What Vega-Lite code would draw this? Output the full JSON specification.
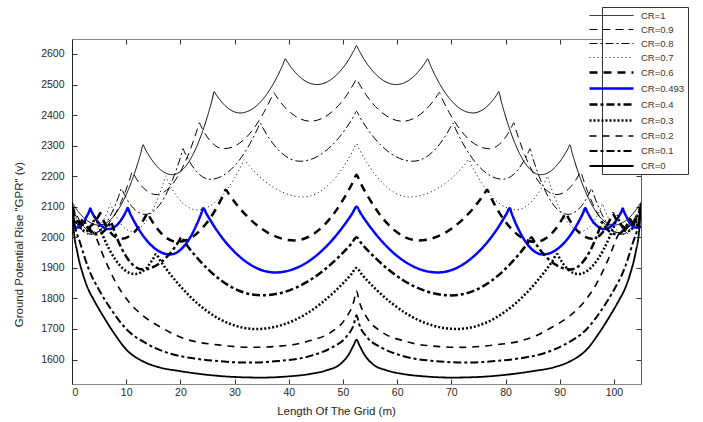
{
  "$schema": "https://vega.github.io/schema/vega-lite/v6.json",
  "width": 569,
  "height": 345,
  "autosize": "none",
  "padding": {"left": 72, "top": 39, "right": 62, "bottom": 38},
  "background": "white",
  "config": {
    "view": {"stroke": null},
    "font": "Liberation Sans",
    "axis": {"labelFont": "Liberation Sans", "titleFont": "Liberation Sans", "labelFontSize": 10.5, "titleFontSize": 11.5, "titleFontWeight": "normal", "labelColor": "#262626", "titleColor": "#262626", "domainColor": "#333", "tickColor": "#333", "grid": false, "tickSize": -5}
  },
  "data": {"values": [
{"cr":"CR=1","x":0,"v":2115},{"cr":"CR=1","x":0.25,"v":2108},{"cr":"CR=1","x":1,"v":2088},{"cr":"CR=1","x":2.5,"v":2059},{"cr":"CR=1","x":5,"v":2040},{"cr":"CR=1","x":9.06,"v":2106},{"cr":"CR=1","x":11.5,"v":2208},{"cr":"CR=1","x":12.72,"v":2277},{"cr":"CR=1","x":13.125,"v":2303},{"cr":"CR=1","x":13.39,"v":2293},{"cr":"CR=1","x":14.2,"v":2268},{"cr":"CR=1","x":15.81,"v":2230},{"cr":"CR=1","x":18.5,"v":2205},{"cr":"CR=1","x":22.38,"v":2273},{"cr":"CR=1","x":24.7,"v":2379},{"cr":"CR=1","x":25.86,"v":2450},{"cr":"CR=1","x":26.25,"v":2477},{"cr":"CR=1","x":26.49,"v":2470},{"cr":"CR=1","x":27.2,"v":2452},{"cr":"CR=1","x":28.63,"v":2425},{"cr":"CR=1","x":31,"v":2407},{"cr":"CR=1","x":35.19,"v":2451},{"cr":"CR=1","x":37.7,"v":2520},{"cr":"CR=1","x":38.96,"v":2567},{"cr":"CR=1","x":39.375,"v":2584},{"cr":"CR=1","x":39.67,"v":2576},{"cr":"CR=1","x":40.54,"v":2554},{"cr":"CR=1","x":42.29,"v":2521},{"cr":"CR=1","x":45.2,"v":2500},{"cr":"CR=1","x":48.85,"v":2532},{"cr":"CR=1","x":51.04,"v":2581},{"cr":"CR=1","x":52.14,"v":2615},{"cr":"CR=1","x":52.5,"v":2627},
{"cr":"CR=1","x":105,"v":2115},{"cr":"CR=1","x":104.75,"v":2108},{"cr":"CR=1","x":104,"v":2088},{"cr":"CR=1","x":102.5,"v":2059},{"cr":"CR=1","x":100,"v":2040},{"cr":"CR=1","x":95.94,"v":2106},{"cr":"CR=1","x":93.5,"v":2208},{"cr":"CR=1","x":92.28,"v":2277},{"cr":"CR=1","x":91.875,"v":2303},{"cr":"CR=1","x":91.61,"v":2293},{"cr":"CR=1","x":90.8,"v":2268},{"cr":"CR=1","x":89.19,"v":2230},{"cr":"CR=1","x":86.5,"v":2205},{"cr":"CR=1","x":82.62,"v":2273},{"cr":"CR=1","x":80.3,"v":2379},{"cr":"CR=1","x":79.14,"v":2450},{"cr":"CR=1","x":78.75,"v":2477},{"cr":"CR=1","x":78.51,"v":2470},{"cr":"CR=1","x":77.8,"v":2452},{"cr":"CR=1","x":76.37,"v":2425},{"cr":"CR=1","x":74,"v":2407},{"cr":"CR=1","x":69.81,"v":2451},{"cr":"CR=1","x":67.3,"v":2520},{"cr":"CR=1","x":66.04,"v":2567},{"cr":"CR=1","x":65.625,"v":2584},{"cr":"CR=1","x":65.33,"v":2576},{"cr":"CR=1","x":64.46,"v":2554},{"cr":"CR=1","x":62.71,"v":2521},{"cr":"CR=1","x":59.8,"v":2500},{"cr":"CR=1","x":56.15,"v":2532},{"cr":"CR=1","x":53.96,"v":2581},{"cr":"CR=1","x":52.86,"v":2615},

{"cr":"CR=0.9","x":0,"v":2110},{"cr":"CR=0.9","x":0.2,"v":2101},{"cr":"CR=0.9","x":0.8,"v":2076},{"cr":"CR=0.9","x":2,"v":2039},{"cr":"CR=0.9","x":4,"v":2015},{"cr":"CR=0.9","x":7.57,"v":2065},{"cr":"CR=0.9","x":9.7,"v":2143},{"cr":"CR=0.9","x":10.77,"v":2196},{"cr":"CR=0.9","x":11.13,"v":2215},{"cr":"CR=0.9","x":11.35,"v":2208},{"cr":"CR=0.9","x":12,"v":2188},{"cr":"CR=0.9","x":13.32,"v":2159},{"cr":"CR=0.9","x":15.5,"v":2140},{"cr":"CR=0.9","x":19.5,"v":2199},{"cr":"CR=0.9","x":21.89,"v":2290},{"cr":"CR=0.9","x":23.09,"v":2352},{"cr":"CR=0.9","x":23.49,"v":2375},{"cr":"CR=0.9","x":23.72,"v":2367},{"cr":"CR=0.9","x":24.39,"v":2344},{"cr":"CR=0.9","x":25.75,"v":2311},{"cr":"CR=0.9","x":28,"v":2290},{"cr":"CR=0.9","x":32.62,"v":2336},{"cr":"CR=0.9","x":35.38,"v":2408},{"cr":"CR=0.9","x":36.77,"v":2456},{"cr":"CR=0.9","x":37.23,"v":2474},{"cr":"CR=0.9","x":37.57,"v":2465},{"cr":"CR=0.9","x":38.58,"v":2440},{"cr":"CR=0.9","x":40.62,"v":2404},{"cr":"CR=0.9","x":44,"v":2380},{"cr":"CR=0.9","x":48.25,"v":2415},{"cr":"CR=0.9","x":50.8,"v":2468},{"cr":"CR=0.9","x":52.08,"v":2505},{"cr":"CR=0.9","x":52.5,"v":2518},
{"cr":"CR=0.9","x":105,"v":2110},{"cr":"CR=0.9","x":104.8,"v":2101},{"cr":"CR=0.9","x":104.2,"v":2076},{"cr":"CR=0.9","x":103,"v":2039},{"cr":"CR=0.9","x":101,"v":2015},{"cr":"CR=0.9","x":97.43,"v":2065},{"cr":"CR=0.9","x":95.3,"v":2143},{"cr":"CR=0.9","x":94.23,"v":2196},{"cr":"CR=0.9","x":93.87,"v":2215},{"cr":"CR=0.9","x":93.65,"v":2208},{"cr":"CR=0.9","x":93,"v":2188},{"cr":"CR=0.9","x":91.68,"v":2159},{"cr":"CR=0.9","x":89.5,"v":2140},{"cr":"CR=0.9","x":85.5,"v":2199},{"cr":"CR=0.9","x":83.11,"v":2290},{"cr":"CR=0.9","x":81.91,"v":2352},{"cr":"CR=0.9","x":81.51,"v":2375},{"cr":"CR=0.9","x":81.28,"v":2367},{"cr":"CR=0.9","x":80.61,"v":2344},{"cr":"CR=0.9","x":79.25,"v":2311},{"cr":"CR=0.9","x":77,"v":2290},{"cr":"CR=0.9","x":72.38,"v":2336},{"cr":"CR=0.9","x":69.62,"v":2408},{"cr":"CR=0.9","x":68.23,"v":2456},{"cr":"CR=0.9","x":67.77,"v":2474},{"cr":"CR=0.9","x":67.43,"v":2465},{"cr":"CR=0.9","x":66.42,"v":2440},{"cr":"CR=0.9","x":64.38,"v":2404},{"cr":"CR=0.9","x":61,"v":2380},{"cr":"CR=0.9","x":56.75,"v":2415},{"cr":"CR=0.9","x":54.2,"v":2468},{"cr":"CR=0.9","x":52.92,"v":2505},

{"cr":"CR=0.8","x":0,"v":2105},{"cr":"CR=0.8","x":0.175,"v":2096},{"cr":"CR=0.8","x":0.7,"v":2071},{"cr":"CR=0.8","x":1.75,"v":2034},{"cr":"CR=0.8","x":3.5,"v":2010},{"cr":"CR=0.8","x":6.3,"v":2047},{"cr":"CR=0.8","x":7.99,"v":2106},{"cr":"CR=0.8","x":8.83,"v":2145},{"cr":"CR=0.8","x":9.11,"v":2160},{"cr":"CR=0.8","x":9.33,"v":2152},{"cr":"CR=0.8","x":9.99,"v":2129},{"cr":"CR=0.8","x":11.3,"v":2096},{"cr":"CR=0.8","x":13.5,"v":2075},{"cr":"CR=0.8","x":17,"v":2129},{"cr":"CR=0.8","x":19.09,"v":2213},{"cr":"CR=0.8","x":20.14,"v":2269},{"cr":"CR=0.8","x":20.49,"v":2290},{"cr":"CR=0.8","x":20.74,"v":2280},{"cr":"CR=0.8","x":21.49,"v":2254},{"cr":"CR=0.8","x":23,"v":2215},{"cr":"CR=0.8","x":25.5,"v":2190},{"cr":"CR=0.8","x":30.11,"v":2236},{"cr":"CR=0.8","x":32.88,"v":2308},{"cr":"CR=0.8","x":34.26,"v":2356},{"cr":"CR=0.8","x":34.72,"v":2374},{"cr":"CR=0.8","x":35.09,"v":2362},{"cr":"CR=0.8","x":36.2,"v":2329},{"cr":"CR=0.8","x":38.41,"v":2280},{"cr":"CR=0.8","x":42.1,"v":2249},{"cr":"CR=0.8","x":47.3,"v":2290},{"cr":"CR=0.8","x":50.42,"v":2353},{"cr":"CR=0.8","x":51.98,"v":2396},{"cr":"CR=0.8","x":52.5,"v":2412},
{"cr":"CR=0.8","x":105,"v":2105},{"cr":"CR=0.8","x":104.825,"v":2096},{"cr":"CR=0.8","x":104.3,"v":2071},{"cr":"CR=0.8","x":103.25,"v":2034},{"cr":"CR=0.8","x":101.5,"v":2010},{"cr":"CR=0.8","x":98.7,"v":2047},{"cr":"CR=0.8","x":97.01,"v":2106},{"cr":"CR=0.8","x":96.17,"v":2145},{"cr":"CR=0.8","x":95.89,"v":2160},{"cr":"CR=0.8","x":95.67,"v":2152},{"cr":"CR=0.8","x":95.01,"v":2129},{"cr":"CR=0.8","x":93.7,"v":2096},{"cr":"CR=0.8","x":91.5,"v":2075},{"cr":"CR=0.8","x":88,"v":2129},{"cr":"CR=0.8","x":85.91,"v":2213},{"cr":"CR=0.8","x":84.86,"v":2269},{"cr":"CR=0.8","x":84.51,"v":2290},{"cr":"CR=0.8","x":84.26,"v":2280},{"cr":"CR=0.8","x":83.51,"v":2254},{"cr":"CR=0.8","x":82,"v":2215},{"cr":"CR=0.8","x":79.5,"v":2190},{"cr":"CR=0.8","x":74.89,"v":2236},{"cr":"CR=0.8","x":72.12,"v":2308},{"cr":"CR=0.8","x":70.74,"v":2356},{"cr":"CR=0.8","x":70.28,"v":2374},{"cr":"CR=0.8","x":69.91,"v":2362},{"cr":"CR=0.8","x":68.8,"v":2329},{"cr":"CR=0.8","x":66.59,"v":2280},{"cr":"CR=0.8","x":62.9,"v":2249},{"cr":"CR=0.8","x":57.7,"v":2290},{"cr":"CR=0.8","x":54.58,"v":2353},{"cr":"CR=0.8","x":53.02,"v":2396},

{"cr":"CR=0.7","x":0,"v":2100},{"cr":"CR=0.7","x":0.15,"v":2091},{"cr":"CR=0.7","x":0.6,"v":2068},{"cr":"CR=0.7","x":1.5,"v":2032},{"cr":"CR=0.7","x":3,"v":2010},{"cr":"CR=0.7","x":5.06,"v":2035},{"cr":"CR=0.7","x":6.29,"v":2074},{"cr":"CR=0.7","x":6.9,"v":2100},{"cr":"CR=0.7","x":7.11,"v":2110},{"cr":"CR=0.7","x":7.31,"v":2101},{"cr":"CR=0.7","x":7.89,"v":2078},{"cr":"CR=0.7","x":9.06,"v":2043},{"cr":"CR=0.7","x":11,"v":2020},{"cr":"CR=0.7","x":14.13,"v":2065},{"cr":"CR=0.7","x":16.01,"v":2135},{"cr":"CR=0.7","x":16.95,"v":2182},{"cr":"CR=0.7","x":17.26,"v":2200},{"cr":"CR=0.7","x":17.55,"v":2189},{"cr":"CR=0.7","x":18.41,"v":2160},{"cr":"CR=0.7","x":20.13,"v":2118},{"cr":"CR=0.7","x":23,"v":2090},{"cr":"CR=0.7","x":27.39,"v":2131},{"cr":"CR=0.7","x":30.02,"v":2195},{"cr":"CR=0.7","x":31.33,"v":2238},{"cr":"CR=0.7","x":31.77,"v":2254},{"cr":"CR=0.7","x":32.32,"v":2242},{"cr":"CR=0.7","x":33.96,"v":2210},{"cr":"CR=0.7","x":37.24,"v":2163},{"cr":"CR=0.7","x":42.7,"v":2132},{"cr":"CR=0.7","x":47.6,"v":2176},{"cr":"CR=0.7","x":50.54,"v":2243},{"cr":"CR=0.7","x":52.01,"v":2289},{"cr":"CR=0.7","x":52.5,"v":2306},
{"cr":"CR=0.7","x":105,"v":2100},{"cr":"CR=0.7","x":104.85,"v":2091},{"cr":"CR=0.7","x":104.4,"v":2068},{"cr":"CR=0.7","x":103.5,"v":2032},{"cr":"CR=0.7","x":102,"v":2010},{"cr":"CR=0.7","x":99.94,"v":2035},{"cr":"CR=0.7","x":98.71,"v":2074},{"cr":"CR=0.7","x":98.1,"v":2100},{"cr":"CR=0.7","x":97.89,"v":2110},{"cr":"CR=0.7","x":97.69,"v":2101},{"cr":"CR=0.7","x":97.11,"v":2078},{"cr":"CR=0.7","x":95.94,"v":2043},{"cr":"CR=0.7","x":94,"v":2020},{"cr":"CR=0.7","x":90.87,"v":2065},{"cr":"CR=0.7","x":88.99,"v":2135},{"cr":"CR=0.7","x":88.05,"v":2182},{"cr":"CR=0.7","x":87.74,"v":2200},{"cr":"CR=0.7","x":87.45,"v":2189},{"cr":"CR=0.7","x":86.59,"v":2160},{"cr":"CR=0.7","x":84.87,"v":2118},{"cr":"CR=0.7","x":82,"v":2090},{"cr":"CR=0.7","x":77.61,"v":2131},{"cr":"CR=0.7","x":74.98,"v":2195},{"cr":"CR=0.7","x":73.67,"v":2238},{"cr":"CR=0.7","x":73.23,"v":2254},{"cr":"CR=0.7","x":72.68,"v":2242},{"cr":"CR=0.7","x":71.04,"v":2210},{"cr":"CR=0.7","x":67.76,"v":2163},{"cr":"CR=0.7","x":62.3,"v":2132},{"cr":"CR=0.7","x":57.4,"v":2176},{"cr":"CR=0.7","x":54.46,"v":2243},{"cr":"CR=0.7","x":52.99,"v":2289},

{"cr":"CR=0.6","x":0,"v":2100},{"cr":"CR=0.6","x":0.125,"v":2093},{"cr":"CR=0.6","x":0.5,"v":2075},{"cr":"CR=0.6","x":1.25,"v":2048},{"cr":"CR=0.6","x":2.5,"v":2030},{"cr":"CR=0.6","x":3.86,"v":2043},{"cr":"CR=0.6","x":4.67,"v":2062},{"cr":"CR=0.6","x":5.07,"v":2075},{"cr":"CR=0.6","x":5.21,"v":2080},{"cr":"CR=0.6","x":5.4,"v":2072},{"cr":"CR=0.6","x":5.97,"v":2049},{"cr":"CR=0.6","x":7.1,"v":2016},{"cr":"CR=0.6","x":9,"v":1995},{"cr":"CR=0.6","x":11.45,"v":2016},{"cr":"CR=0.6","x":12.92,"v":2049},{"cr":"CR=0.6","x":13.66,"v":2072},{"cr":"CR=0.6","x":13.9,"v":2080},{"cr":"CR=0.6","x":14.18,"v":2071},{"cr":"CR=0.6","x":15.02,"v":2046},{"cr":"CR=0.6","x":16.7,"v":2009},{"cr":"CR=0.6","x":19.5,"v":1985},{"cr":"CR=0.6","x":23.94,"v":2028},{"cr":"CR=0.6","x":26.6,"v":2094},{"cr":"CR=0.6","x":27.93,"v":2139},{"cr":"CR=0.6","x":28.37,"v":2156},{"cr":"CR=0.6","x":29,"v":2140},{"cr":"CR=0.6","x":30.9,"v":2096},{"cr":"CR=0.6","x":34.69,"v":2032},{"cr":"CR=0.6","x":41,"v":1990},{"cr":"CR=0.6","x":46.75,"v":2044},{"cr":"CR=0.6","x":50.2,"v":2128},{"cr":"CR=0.6","x":51.93,"v":2184},{"cr":"CR=0.6","x":52.5,"v":2205},
{"cr":"CR=0.6","x":105,"v":2100},{"cr":"CR=0.6","x":104.875,"v":2093},{"cr":"CR=0.6","x":104.5,"v":2075},{"cr":"CR=0.6","x":103.75,"v":2048},{"cr":"CR=0.6","x":102.5,"v":2030},{"cr":"CR=0.6","x":101.14,"v":2043},{"cr":"CR=0.6","x":100.33,"v":2062},{"cr":"CR=0.6","x":99.93,"v":2075},{"cr":"CR=0.6","x":99.79,"v":2080},{"cr":"CR=0.6","x":99.6,"v":2072},{"cr":"CR=0.6","x":99.03,"v":2049},{"cr":"CR=0.6","x":97.9,"v":2016},{"cr":"CR=0.6","x":96,"v":1995},{"cr":"CR=0.6","x":93.55,"v":2016},{"cr":"CR=0.6","x":92.08,"v":2049},{"cr":"CR=0.6","x":91.34,"v":2072},{"cr":"CR=0.6","x":91.1,"v":2080},{"cr":"CR=0.6","x":90.82,"v":2071},{"cr":"CR=0.6","x":89.98,"v":2046},{"cr":"CR=0.6","x":88.3,"v":2009},{"cr":"CR=0.6","x":85.5,"v":1985},{"cr":"CR=0.6","x":81.06,"v":2028},{"cr":"CR=0.6","x":78.4,"v":2094},{"cr":"CR=0.6","x":77.07,"v":2139},{"cr":"CR=0.6","x":76.63,"v":2156},{"cr":"CR=0.6","x":76,"v":2140},{"cr":"CR=0.6","x":74.1,"v":2096},{"cr":"CR=0.6","x":70.31,"v":2032},{"cr":"CR=0.6","x":64,"v":1990},{"cr":"CR=0.6","x":58.25,"v":2044},{"cr":"CR=0.6","x":54.8,"v":2128},{"cr":"CR=0.6","x":53.07,"v":2184},

{"cr":"CR=0.493","x":0,"v":2035},{"cr":"CR=0.493","x":1,"v":2032},{"cr":"CR=0.493","x":2,"v":2045},{"cr":"CR=0.493","x":2.7,"v":2068},{"cr":"CR=0.493","x":3.2,"v":2086},{"cr":"CR=0.493","x":3.38,"v":2094},{"cr":"CR=0.493","x":3.55,"v":2087},{"cr":"CR=0.493","x":4.05,"v":2070},{"cr":"CR=0.493","x":5.07,"v":2044},{"cr":"CR=0.493","x":6.75,"v":2027},{"cr":"CR=0.493","x":8.5,"v":2044},{"cr":"CR=0.493","x":9.56,"v":2071},{"cr":"CR=0.493","x":10.08,"v":2089},{"cr":"CR=0.493","x":10.26,"v":2096},{"cr":"CR=0.493","x":10.65,"v":2081},{"cr":"CR=0.493","x":11.83,"v":2041},{"cr":"CR=0.493","x":14.18,"v":1982},{"cr":"CR=0.493","x":18.1,"v":1944},{"cr":"CR=0.493","x":21.16,"v":1982},{"cr":"CR=0.493","x":22.99,"v":2041},{"cr":"CR=0.493","x":23.9,"v":2080},{"cr":"CR=0.493","x":24.21,"v":2095},{"cr":"CR=0.493","x":24.88,"v":2075},{"cr":"CR=0.493","x":26.87,"v":2019},{"cr":"CR=0.493","x":30.86,"v":1938},{"cr":"CR=0.493","x":37.5,"v":1885},{"cr":"CR=0.493","x":45,"v":1939},{"cr":"CR=0.493","x":49.5,"v":2023},{"cr":"CR=0.493","x":51.75,"v":2079},{"cr":"CR=0.493","x":52.5,"v":2100},
{"cr":"CR=0.493","x":105,"v":2035},{"cr":"CR=0.493","x":104,"v":2032},{"cr":"CR=0.493","x":103,"v":2045},{"cr":"CR=0.493","x":102.3,"v":2068},{"cr":"CR=0.493","x":101.8,"v":2086},{"cr":"CR=0.493","x":101.62,"v":2094},{"cr":"CR=0.493","x":101.45,"v":2087},{"cr":"CR=0.493","x":100.95,"v":2070},{"cr":"CR=0.493","x":99.93,"v":2044},{"cr":"CR=0.493","x":98.25,"v":2027},{"cr":"CR=0.493","x":96.5,"v":2044},{"cr":"CR=0.493","x":95.44,"v":2071},{"cr":"CR=0.493","x":94.92,"v":2089},{"cr":"CR=0.493","x":94.74,"v":2096},{"cr":"CR=0.493","x":94.35,"v":2081},{"cr":"CR=0.493","x":93.17,"v":2041},{"cr":"CR=0.493","x":90.82,"v":1982},{"cr":"CR=0.493","x":86.9,"v":1944},{"cr":"CR=0.493","x":83.84,"v":1982},{"cr":"CR=0.493","x":82.01,"v":2041},{"cr":"CR=0.493","x":81.1,"v":2080},{"cr":"CR=0.493","x":80.79,"v":2095},{"cr":"CR=0.493","x":80.12,"v":2075},{"cr":"CR=0.493","x":78.13,"v":2019},{"cr":"CR=0.493","x":74.14,"v":1938},{"cr":"CR=0.493","x":67.5,"v":1885},{"cr":"CR=0.493","x":60,"v":1939},{"cr":"CR=0.493","x":55.5,"v":2023},{"cr":"CR=0.493","x":53.25,"v":2079},

{"cr":"CR=0.4","x":0,"v":2090},{"cr":"CR=0.4","x":0.8,"v":2040},{"cr":"CR=0.4","x":1.5,"v":2045},{"cr":"CR=0.4","x":2.07,"v":2060},{"cr":"CR=0.4","x":2.56,"v":2042},{"cr":"CR=0.4","x":3.29,"v":2022},{"cr":"CR=0.4","x":4.5,"v":2010},{"cr":"CR=0.4","x":5.87,"v":2020},{"cr":"CR=0.4","x":6.69,"v":2036},{"cr":"CR=0.4","x":7.1,"v":2046},{"cr":"CR=0.4","x":7.24,"v":2050},{"cr":"CR=0.4","x":7.53,"v":2035},{"cr":"CR=0.4","x":8.39,"v":1994},{"cr":"CR=0.4","x":10.12,"v":1934},{"cr":"CR=0.4","x":13,"v":1895},{"cr":"CR=0.4","x":16.59,"v":1921},{"cr":"CR=0.4","x":18.74,"v":1962},{"cr":"CR=0.4","x":19.81,"v":1990},{"cr":"CR=0.4","x":20.17,"v":2000},{"cr":"CR=0.4","x":20.91,"v":1981},{"cr":"CR=0.4","x":23.14,"v":1932},{"cr":"CR=0.4","x":27.59,"v":1858},{"cr":"CR=0.4","x":35,"v":1810},{"cr":"CR=0.4","x":43.75,"v":1858},{"cr":"CR=0.4","x":49,"v":1932},{"cr":"CR=0.4","x":51.63,"v":1981},{"cr":"CR=0.4","x":52.5,"v":2000},
{"cr":"CR=0.4","x":105,"v":2090},{"cr":"CR=0.4","x":104.2,"v":2040},{"cr":"CR=0.4","x":103.5,"v":2045},{"cr":"CR=0.4","x":102.93,"v":2060},{"cr":"CR=0.4","x":102.44,"v":2042},{"cr":"CR=0.4","x":101.71,"v":2022},{"cr":"CR=0.4","x":100.5,"v":2010},{"cr":"CR=0.4","x":99.13,"v":2020},{"cr":"CR=0.4","x":98.31,"v":2036},{"cr":"CR=0.4","x":97.9,"v":2046},{"cr":"CR=0.4","x":97.76,"v":2050},{"cr":"CR=0.4","x":97.47,"v":2035},{"cr":"CR=0.4","x":96.61,"v":1994},{"cr":"CR=0.4","x":94.88,"v":1934},{"cr":"CR=0.4","x":92,"v":1895},{"cr":"CR=0.4","x":88.41,"v":1921},{"cr":"CR=0.4","x":86.26,"v":1962},{"cr":"CR=0.4","x":85.19,"v":1990},{"cr":"CR=0.4","x":84.83,"v":2000},{"cr":"CR=0.4","x":84.09,"v":1981},{"cr":"CR=0.4","x":81.86,"v":1932},{"cr":"CR=0.4","x":77.41,"v":1858},{"cr":"CR=0.4","x":70,"v":1810},{"cr":"CR=0.4","x":61.25,"v":1858},{"cr":"CR=0.4","x":56,"v":1932},{"cr":"CR=0.4","x":53.37,"v":1981},

{"cr":"CR=0.3","x":0,"v":2080},{"cr":"CR=0.3","x":0.5,"v":2045},{"cr":"CR=0.3","x":1,"v":2050},{"cr":"CR=0.3","x":1.8,"v":2025},{"cr":"CR=0.3","x":2.6,"v":2020},{"cr":"CR=0.3","x":3.5,"v":2035},{"cr":"CR=0.3","x":4.1,"v":2058},{"cr":"CR=0.3","x":4.33,"v":2070},{"cr":"CR=0.3","x":4.69,"v":2051},{"cr":"CR=0.3","x":5.78,"v":2002},{"cr":"CR=0.3","x":7.97,"v":1928},{"cr":"CR=0.3","x":11.6,"v":1880},{"cr":"CR=0.3","x":13.53,"v":1896},{"cr":"CR=0.3","x":14.68,"v":1922},{"cr":"CR=0.3","x":15.26,"v":1939},{"cr":"CR=0.3","x":15.45,"v":1945},{"cr":"CR=0.3","x":16.38,"v":1921},{"cr":"CR=0.3","x":19.16,"v":1857},{"cr":"CR=0.3","x":24.73,"v":1761},{"cr":"CR=0.3","x":34,"v":1700},{"cr":"CR=0.3","x":43.25,"v":1750},{"cr":"CR=0.3","x":48.8,"v":1828},{"cr":"CR=0.3","x":51.58,"v":1880},{"cr":"CR=0.3","x":52.5,"v":1900},
{"cr":"CR=0.3","x":105,"v":2080},{"cr":"CR=0.3","x":104.5,"v":2045},{"cr":"CR=0.3","x":104,"v":2050},{"cr":"CR=0.3","x":103.2,"v":2025},{"cr":"CR=0.3","x":102.4,"v":2020},{"cr":"CR=0.3","x":101.5,"v":2035},{"cr":"CR=0.3","x":100.9,"v":2058},{"cr":"CR=0.3","x":100.67,"v":2070},{"cr":"CR=0.3","x":100.31,"v":2051},{"cr":"CR=0.3","x":99.22,"v":2002},{"cr":"CR=0.3","x":97.03,"v":1928},{"cr":"CR=0.3","x":93.4,"v":1880},{"cr":"CR=0.3","x":91.47,"v":1896},{"cr":"CR=0.3","x":90.32,"v":1922},{"cr":"CR=0.3","x":89.74,"v":1939},{"cr":"CR=0.3","x":89.55,"v":1945},{"cr":"CR=0.3","x":88.62,"v":1921},{"cr":"CR=0.3","x":85.84,"v":1857},{"cr":"CR=0.3","x":80.27,"v":1761},{"cr":"CR=0.3","x":71,"v":1700},{"cr":"CR=0.3","x":61.75,"v":1750},{"cr":"CR=0.3","x":56.2,"v":1828},{"cr":"CR=0.3","x":53.42,"v":1880},

{"cr":"CR=0.2","x":0,"v":2090},{"cr":"CR=0.2","x":1,"v":2060},{"cr":"CR=0.2","x":2.02,"v":2040},{"cr":"CR=0.2","x":4,"v":2014},{"cr":"CR=0.2","x":6,"v":1930},{"cr":"CR=0.2","x":8,"v":1855},{"cr":"CR=0.2","x":10.43,"v":1790},{"cr":"CR=0.2","x":13,"v":1745},{"cr":"CR=0.2","x":17,"v":1700},{"cr":"CR=0.2","x":19.4,"v":1678},{"cr":"CR=0.2","x":22,"v":1662},{"cr":"CR=0.2","x":27,"v":1648},{"cr":"CR=0.2","x":33,"v":1640},{"cr":"CR=0.2","x":39,"v":1645},{"cr":"CR=0.2","x":44,"v":1662},{"cr":"CR=0.2","x":48,"v":1692},{"cr":"CR=0.2","x":50.5,"v":1735},{"cr":"CR=0.2","x":52,"v":1790},{"cr":"CR=0.2","x":52.5,"v":1825},
{"cr":"CR=0.2","x":105,"v":2090},{"cr":"CR=0.2","x":104,"v":2060},{"cr":"CR=0.2","x":102.98,"v":2040},{"cr":"CR=0.2","x":101,"v":2014},{"cr":"CR=0.2","x":99,"v":1930},{"cr":"CR=0.2","x":97,"v":1855},{"cr":"CR=0.2","x":94.57,"v":1790},{"cr":"CR=0.2","x":92,"v":1745},{"cr":"CR=0.2","x":88,"v":1700},{"cr":"CR=0.2","x":85.6,"v":1678},{"cr":"CR=0.2","x":83,"v":1662},{"cr":"CR=0.2","x":78,"v":1648},{"cr":"CR=0.2","x":72,"v":1640},{"cr":"CR=0.2","x":66,"v":1645},{"cr":"CR=0.2","x":61,"v":1662},{"cr":"CR=0.2","x":57,"v":1692},{"cr":"CR=0.2","x":54.5,"v":1735},{"cr":"CR=0.2","x":53,"v":1790},

{"cr":"CR=0.1","x":0,"v":2100},{"cr":"CR=0.1","x":0.52,"v":2040},{"cr":"CR=0.1","x":1.5,"v":1982},{"cr":"CR=0.1","x":3,"v":1900},{"cr":"CR=0.1","x":5.25,"v":1820},{"cr":"CR=0.1","x":7,"v":1770},{"cr":"CR=0.1","x":10,"v":1700},{"cr":"CR=0.1","x":14,"v":1650},{"cr":"CR=0.1","x":18,"v":1620},{"cr":"CR=0.1","x":22,"v":1605},{"cr":"CR=0.1","x":27,"v":1595},{"cr":"CR=0.1","x":32,"v":1590},{"cr":"CR=0.1","x":38,"v":1595},{"cr":"CR=0.1","x":44,"v":1612},{"cr":"CR=0.1","x":48,"v":1640},{"cr":"CR=0.1","x":50.5,"v":1672},{"cr":"CR=0.1","x":52,"v":1715},{"cr":"CR=0.1","x":52.5,"v":1745},
{"cr":"CR=0.1","x":105,"v":2100},{"cr":"CR=0.1","x":104.48,"v":2040},{"cr":"CR=0.1","x":103.5,"v":1982},{"cr":"CR=0.1","x":102,"v":1900},{"cr":"CR=0.1","x":99.75,"v":1820},{"cr":"CR=0.1","x":98,"v":1770},{"cr":"CR=0.1","x":95,"v":1700},{"cr":"CR=0.1","x":91,"v":1650},{"cr":"CR=0.1","x":87,"v":1620},{"cr":"CR=0.1","x":83,"v":1605},{"cr":"CR=0.1","x":78,"v":1595},{"cr":"CR=0.1","x":73,"v":1590},{"cr":"CR=0.1","x":67,"v":1595},{"cr":"CR=0.1","x":61,"v":1612},{"cr":"CR=0.1","x":57,"v":1640},{"cr":"CR=0.1","x":54.5,"v":1672},{"cr":"CR=0.1","x":53,"v":1715},

{"cr":"CR=0","x":0,"v":2110},{"cr":"CR=0","x":0.3,"v":2030},{"cr":"CR=0","x":1,"v":1950},{"cr":"CR=0","x":2,"v":1880},{"cr":"CR=0","x":3,"v":1830},{"cr":"CR=0","x":4,"v":1796},{"cr":"CR=0","x":6,"v":1735},{"cr":"CR=0","x":8,"v":1680},{"cr":"CR=0","x":10,"v":1633},{"cr":"CR=0","x":13,"v":1595},{"cr":"CR=0","x":16,"v":1575},{"cr":"CR=0","x":20,"v":1562},{"cr":"CR=0","x":25,"v":1550},{"cr":"CR=0","x":30,"v":1543},{"cr":"CR=0","x":35,"v":1541},{"cr":"CR=0","x":40,"v":1545},{"cr":"CR=0","x":44,"v":1553},{"cr":"CR=0","x":47,"v":1565},{"cr":"CR=0","x":49.5,"v":1585},{"cr":"CR=0","x":51,"v":1615},{"cr":"CR=0","x":52,"v":1648},{"cr":"CR=0","x":52.5,"v":1665},
{"cr":"CR=0","x":105,"v":2110},{"cr":"CR=0","x":104.7,"v":2030},{"cr":"CR=0","x":104,"v":1950},{"cr":"CR=0","x":103,"v":1880},{"cr":"CR=0","x":102,"v":1830},{"cr":"CR=0","x":101,"v":1796},{"cr":"CR=0","x":99,"v":1735},{"cr":"CR=0","x":97,"v":1680},{"cr":"CR=0","x":95,"v":1633},{"cr":"CR=0","x":92,"v":1595},{"cr":"CR=0","x":89,"v":1575},{"cr":"CR=0","x":85,"v":1562},{"cr":"CR=0","x":80,"v":1550},{"cr":"CR=0","x":75,"v":1543},{"cr":"CR=0","x":70,"v":1541},{"cr":"CR=0","x":65,"v":1545},{"cr":"CR=0","x":61,"v":1553},{"cr":"CR=0","x":58,"v":1565},{"cr":"CR=0","x":55.5,"v":1585},{"cr":"CR=0","x":54,"v":1615},{"cr":"CR=0","x":53,"v":1648}
  ]},
  "layer": [
    {
      "mark": {"type": "line", "interpolate": "monotone", "clip": true},
      "encoding": {
        "x": {"field": "x", "type": "quantitative", "scale": {"domain": [0, 105], "nice": false, "zero": false}, "axis": {"values": [0,10,20,30,40,50,60,70,80,90,100], "title": "Length Of The Grid (m)", "labelPadding": 8, "titlePadding": 8, "titleX": 264, "domainColor": "#888"}},
        "y": {"field": "v", "type": "quantitative", "scale": {"domain": [1520, 2649], "nice": false, "zero": false}, "axis": {"values": [1600,1700,1800,1900,2000,2100,2200,2300,2400,2500,2600], "format": "d", "title": "Ground Potential Rise \"GPR\" (v)", "labelPadding": 13, "titlePadding": 16, "titleY": 205, "domainColor": "#222"}},
        "color": {"field": "cr", "type": "nominal", "sort": ["CR=1","CR=0.9","CR=0.8","CR=0.7","CR=0.6","CR=0.493","CR=0.4","CR=0.3","CR=0.2","CR=0.1","CR=0"],
          "scale": {"domain": ["CR=1","CR=0.9","CR=0.8","CR=0.7","CR=0.6","CR=0.493","CR=0.4","CR=0.3","CR=0.2","CR=0.1","CR=0"], "range": ["#000","#000","#000","#000","#000","#0000ff","#000","#000","#000","#000","#000"]},
          "legend": {"title": null, "orient": "none", "legendX": 530, "legendY": -32, "symbolType": "M-4.4,0H4.4", "symbolSize": 100, "rowPadding": 4, "labelFontSize": 9.5, "labelColor": "#333", "strokeColor": "#333", "fillColor": "white", "padding": 3, "labelOffset": 23}},
        "strokeDash": {"field": "cr", "type": "nominal", "sort": ["CR=1","CR=0.9","CR=0.8","CR=0.7","CR=0.6","CR=0.493","CR=0.4","CR=0.3","CR=0.2","CR=0.1","CR=0"],
          "scale": {"domain": ["CR=1","CR=0.9","CR=0.8","CR=0.7","CR=0.6","CR=0.493","CR=0.4","CR=0.3","CR=0.2","CR=0.1","CR=0"], "range": [[1,0],[8,5],[8,3,2,3],[1,3],[8,6],[1,0],[8,3,3,3],[2,2],[7,6],[8,3,3,3],[1,0]]}},
        "strokeWidth": {"field": "cr", "type": "nominal", "sort": ["CR=1","CR=0.9","CR=0.8","CR=0.7","CR=0.6","CR=0.493","CR=0.4","CR=0.3","CR=0.2","CR=0.1","CR=0"],
          "scale": {"type": "ordinal", "domain": ["CR=1","CR=0.9","CR=0.8","CR=0.7","CR=0.6","CR=0.493","CR=0.4","CR=0.3","CR=0.2","CR=0.1","CR=0"], "range": [1,1,1,1,2.5,2.5,2.5,2.5,1.6,2,1.8]}}
      }
    },
    {
      "mark": {"type": "point", "opacity": 0},
      "encoding": {
        "x": {"field": "x", "type": "quantitative", "axis": {"orient": "top", "values": [0,10,20,30,40,50,60,70,80,90,100], "labels": false, "title": null, "domainColor": "#888"}},
        "y": {"field": "v", "type": "quantitative", "axis": {"orient": "right", "values": [1600,1700,1800,1900,2000,2100,2200,2300,2400,2500,2600], "labels": false, "title": null, "domainColor": "#555"}}
      }
    }
  ],
  "resolve": {"axis": {"x": "independent", "y": "independent"}}
}
